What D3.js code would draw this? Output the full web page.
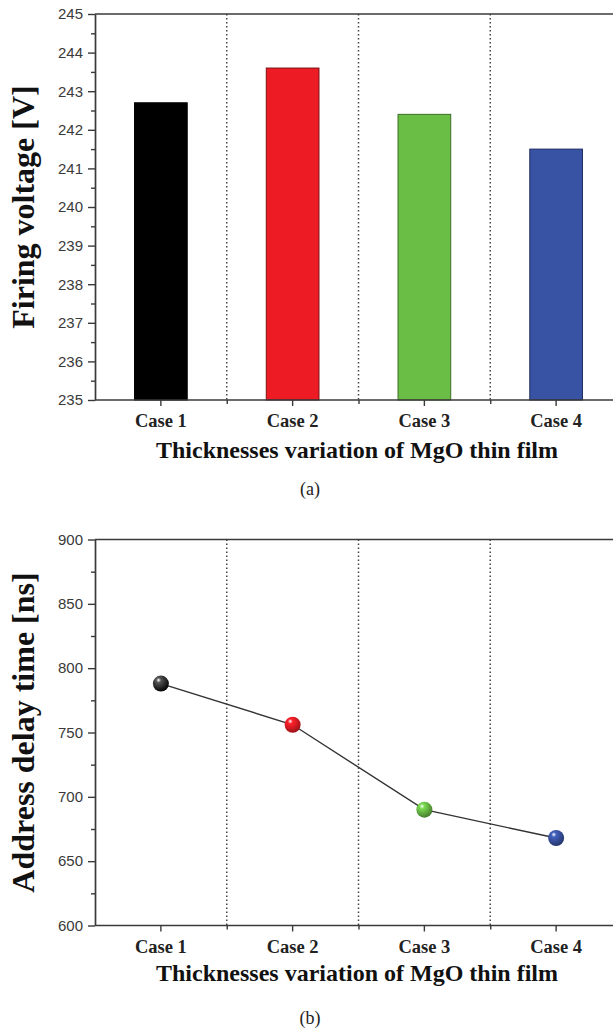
<!DOCTYPE html>
<html>
<head>
<meta charset="utf-8">
<script src="https://cdn.jsdelivr.net/npm/d3@7"></script>
<style>
  body { margin: 0; background: #fff; }
  svg { display: block; }
  .tick-label { font-family: "Liberation Sans", Arial, sans-serif; font-size: 15px; fill: #3a3a3a; }
  .cat-label { font-family: "Liberation Serif", "Times New Roman", serif; font-weight: bold; font-size: 18.5px; fill: #222; }
  .axis-title { font-family: "Liberation Serif", "Times New Roman", serif; font-weight: bold; fill: #111; }
  .panel-label { font-family: "Liberation Serif", "Times New Roman", serif; font-size: 18px; fill: #222; }
</style>
</head>
<body>
<svg id="chart" width="613" height="1031"></svg>
<script>
// data
const cases = ["Case 1", "Case 2", "Case 3", "Case 4"];
const caseColors = ["#000000", "#ed1c24", "#6abd45", "#3953a4"];
const caseStroke = ["#000000", "#7a1014", "#3d6e26", "#1f2e60"];
const firingVoltage = [242.7, 243.6, 242.4, 241.5];
const addressDelay = [788, 756, 690, 668];
const voltageTicks = [235, 236, 237, 238, 239, 240, 241, 242, 243, 244, 245];
const delayTicks = [600, 650, 700, 750, 800, 850, 900];
const xTitle = "Thicknesses variation of MgO thin film";

const svg = d3.select("#chart");
const defs = svg.append("defs");

// sphere shading for the markers
caseColors.forEach((c, i) => {
  const g = defs.append("radialGradient")
    .attr("id", "ball" + i)
    .attr("cx", "38%").attr("cy", "32%").attr("r", "70%")
    .attr("fx", "35%").attr("fy", "28%");
  g.append("stop").attr("offset", "0%").attr("stop-color", "#ffffff");
  g.append("stop").attr("offset", "22%").attr("stop-color", i === 0 ? "#555" : d3.color(c).brighter(0.4));
  g.append("stop").attr("offset", "100%").attr("stop-color", d3.color(c).darker(1.2));
});

const left = 95, right = 622;
const axisColor = "#3a3a3a";

const drawPanel = (top, bottom, yDomain, majorTicks, minorStep, title, titleY, label, labelY) => {
  const g = svg.append("g");

  const x = d3.scaleBand().domain(cases).range([left, right]).padding(0);
  const y = d3.scaleLinear().domain(yDomain).range([bottom, top]);

  // dotted separators between cases
  cases.slice(1).forEach(c => {
    g.append("line")
      .attr("x1", x(c)).attr("x2", x(c))
      .attr("y1", top).attr("y2", bottom)
      .attr("stroke", "#444").attr("stroke-width", 1.5)
      .attr("stroke-dasharray", "1.5,2.5");
  });

  // top frame line
  g.append("line")
    .attr("x1", left).attr("x2", 613)
    .attr("y1", top).attr("y2", top)
    .attr("stroke", axisColor).attr("stroke-width", 1.7);

  // y axis: minor ticks then major with labels
  const minor = d3.range(yDomain[0], yDomain[1] + 1e-9, minorStep).filter(v => !majorTicks.includes(v));
  g.append("g")
    .attr("transform", `translate(${left},0)`)
    .call(d3.axisLeft(y).tickValues(minor).tickSize(4).tickFormat(""))
    .call(a => a.select(".domain").remove())
    .call(a => a.selectAll("line").attr("stroke", axisColor).attr("stroke-width", 1.4));

  const yAxis = g.append("g")
    .attr("transform", `translate(${left},0)`)
    .call(d3.axisLeft(y).tickValues(majorTicks).tickSize(7).tickPadding(5).tickSizeOuter(0));
  yAxis.select(".domain").attr("stroke", axisColor).attr("stroke-width", 1.7);
  yAxis.selectAll("line").attr("stroke", axisColor).attr("stroke-width", 1.4);
  yAxis.selectAll("text").attr("class", "tick-label").attr("font-family", null).attr("font-size", null);

  // x axis: minor ticks at the separators, major at the case centres
  const xLin = d3.scaleLinear().domain([left, right]).range([left, right]);
  g.append("g")
    .attr("transform", `translate(0,${bottom})`)
    .call(d3.axisBottom(xLin).tickValues(cases.slice(1).map(c => x(c))).tickSize(4).tickFormat(""))
    .call(a => a.select(".domain").remove())
    .call(a => a.selectAll("line").attr("stroke", axisColor).attr("stroke-width", 1.4));

  const xAxis = g.append("g")
    .attr("transform", `translate(0,${bottom})`)
    .call(d3.axisBottom(x).tickSize(6).tickPadding(8).tickSizeOuter(0));
  xAxis.select(".domain").attr("stroke", axisColor).attr("stroke-width", 1.7)
    .attr("d", `M${left},0H613`);
  xAxis.selectAll("line").attr("stroke", axisColor).attr("stroke-width", 1.4);
  xAxis.selectAll("text").attr("class", "cat-label").attr("font-family", null).attr("font-size", null);

  // y title
  g.append("text")
    .attr("class", "axis-title")
    .attr("transform", `translate(34,${(top + bottom) / 2}) rotate(-90)`)
    .attr("text-anchor", "middle")
    .style("font-size", "32px")
    .text(title);

  // x title
  g.append("text")
    .attr("class", "axis-title")
    .attr("x", 357).attr("y", titleY)
    .attr("text-anchor", "middle")
    .style("font-size", "24px")
    .text(xTitle);

  g.append("text")
    .attr("class", "panel-label")
    .attr("x", 310).attr("y", labelY)
    .attr("text-anchor", "middle")
    .text(label);

  return { g, x, y };
};

// (a) firing voltage bars
const a = drawPanel(14, 400, [235, 245], voltageTicks, 0.5,
  "Firing voltage [V]", 458, "(a)", 495);

const barW = a.x.bandwidth() * 0.4;
a.g.insert("g", ":nth-child(4)")
  .selectAll("rect")
  .data(firingVoltage)
  .join("rect")
    .attr("x", (d, i) => a.x(cases[i]) + (a.x.bandwidth() - barW) / 2)
    .attr("y", d => a.y(d))
    .attr("width", barW)
    .attr("height", d => a.y(235) - a.y(d))
    .attr("fill", (d, i) => caseColors[i])
    .attr("stroke", (d, i) => caseStroke[i])
    .attr("stroke-width", 1);

// (b) address delay line with sphere markers
const b = drawPanel(539.5, 925.5, [600, 900], delayTicks, 25,
  "Address delay time [ns]", 981, "(b)", 1024);

const cx = (d, i) => b.x(cases[i]) + b.x.bandwidth() / 2;
const line = d3.line()
  .x((d, i) => cx(d, i))
  .y(d => b.y(d));

b.g.append("path")
  .datum(addressDelay)
  .attr("d", line)
  .attr("fill", "none")
  .attr("stroke", "#333")
  .attr("stroke-width", 1.4);

b.g.selectAll("circle.ball")
  .data(addressDelay)
  .join("circle")
    .attr("class", "ball")
    .attr("cx", cx)
    .attr("cy", d => b.y(d))
    .attr("r", 8)
    .attr("fill", (d, i) => `url(#ball${i})`);
</script>
</body>
</html>
